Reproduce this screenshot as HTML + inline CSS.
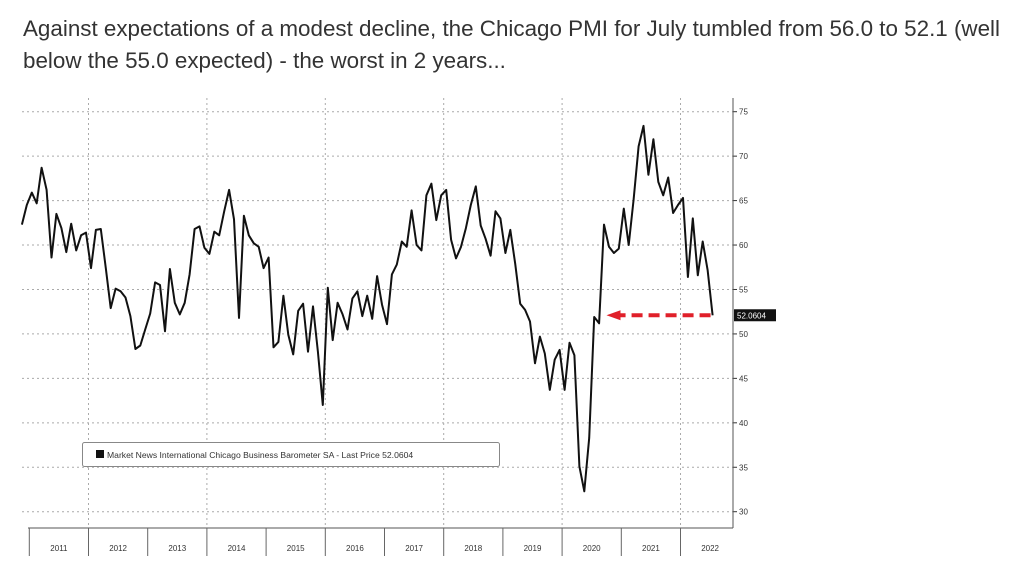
<!DOCTYPE html>
<html><head><meta charset="utf-8">
<style>
html,body{margin:0;padding:0;background:#fff;width:1030px;height:573px;overflow:hidden}
#title{position:absolute;left:23px;top:13px;width:1005px;font-family:"Liberation Sans",Arial,sans-serif;font-size:22.4px;line-height:32px;color:#333;white-space:normal}
svg{position:absolute;left:0;top:0}
</style></head><body>
<div id="title">Against expectations of a modest decline, the Chicago PMI for July tumbled from 56.0 to 52.1 (well below the 55.0 expected) - the worst in 2 years...</div>
<svg id="chart" width="1030" height="573"></svg>
<script>
const startYear = 2010.875;
const pmiValues = [62.3,64.5,65.9,64.7,68.7,66.2,58.6,63.5,61.9,59.2,
62.4,59.4,61.1,61.4,57.4,61.7,61.8,57.4,52.9,55.1,
54.8,54.1,52.0,48.3,48.7,50.5,52.3,55.8,55.5,50.3,
57.3,53.5,52.2,53.5,56.7,61.8,62.1,59.7,59.0,61.5,
61.1,63.8,66.2,62.9,51.8,63.3,61.1,60.2,59.8,57.4,
58.6,48.5,49.1,54.3,49.9,47.7,52.6,53.4,48.0,53.1,
48.0,42.0,55.2,49.3,53.5,52.2,50.5,54.0,54.8,52.0,
54.3,51.7,56.5,53.3,51.1,56.7,57.8,
60.4,59.8,63.9,60.0,59.4,65.6,66.9,62.8,65.6,66.2,60.6,58.5,
59.8,61.9,64.5,66.6,62.2,60.7,58.8,63.8,63.0,59.1,
61.7,57.9,53.4,52.7,51.4,46.7,49.7,47.8,43.7,47.1,
48.2,43.7,49.0,47.6,35.1,32.3,38.3,51.9,51.2,62.3,
59.8,59.1,59.6,64.1,60.0,65.1,71.1,73.4,67.9,71.9,
67.1,65.6,67.6,63.6,64.5,65.3,56.4,63.0,56.6,60.4,
57.2,52.1];
const yTicks = [30,35,40,45,50,55,60,65,70,75];
const years = [2011,2012,2013,2014,2015,2016,2017,2018,2019,2020,2021,2022];
const gridYears = [2012,2014,2016,2018,2020,2022];
const lastPrice = "52.0604";
const legendText = "Market News International Chicago Business Barometer SA - Last Price 52.0604";

const NS="http://www.w3.org/2000/svg";
const svg=document.getElementById('chart');
function X(t){return 88.5+(t-2012)*59.2;}
function Y(v){return 111.7+(75-v)*8.889;}
function mk(tag,attrs,parent){const e=document.createElementNS(NS,tag);for(const k in attrs)e.setAttribute(k,attrs[k]);(parent||svg).appendChild(e);return e;}
const L=22,R=733,B=528,T=98;
yTicks.forEach(v=>{
  const g=mk('line',{x1:L,x2:R,y1:Y(v),y2:Y(v),stroke:'#aaa','stroke-width':1,'stroke-dasharray':'2,3'});
  
  
  const tk=mk('line',{x1:R,x2:R+4,y1:Y(v),y2:Y(v),stroke:'#333','stroke-width':1});
  
  
  const tx=mk('text',{x:R+6,y:Y(v)+3,'font-size':8,'font-family':'Liberation Sans, sans-serif',fill:'#333'});
  tx.textContent=v;
  
  
});
gridYears.forEach(yr=>{
  const g=mk('line',{x1:X(yr),x2:X(yr),y1:T,y2:B,stroke:'#aaa','stroke-width':1,'stroke-dasharray':'2,3'});
  
  
});
const ax=mk('line',{x1:R,x2:R,y1:T,y2:B,stroke:'#555','stroke-width':1});


const bx=mk('line',{x1:L+6,x2:R,y1:B,y2:B,stroke:'#555','stroke-width':1});


years.forEach(yr=>{
  const s=mk('line',{x1:X(yr),x2:X(yr),y1:B,y2:556,stroke:'#666','stroke-width':1});
  
  
  const t=mk('text',{x:X(yr+0.5),y:551,'font-size':8,'text-anchor':'middle','font-family':'Liberation Sans, sans-serif',fill:'#333'});
  t.textContent=yr;
  
  
});
const pts=pmiValues.map((v,i)=>X(startYear+i/12).toFixed(1)+','+Y(v).toFixed(1)).join(' ');
const line=mk('polyline',{points:pts,fill:'none',stroke:'#111','stroke-width':2,'stroke-linejoin':'round'});


const lastV=pmiValues[pmiValues.length-1];
const lastX=X(startYear+(pmiValues.length-1)/12);
const arrow=mk('line',{x1:lastX-2,x2:X(2020.75)+14,y1:Y(lastV),y2:Y(lastV),stroke:'#e0202a','stroke-width':4,'stroke-dasharray':'11,6'});


const head=mk('polygon',{points:`${X(2020.75)},${Y(lastV)} ${X(2020.75)+14},${Y(lastV)-5} ${X(2020.75)+14},${Y(lastV)+5}`,fill:'#e0202a'});


const lb=mk('rect',{x:R+1,y:Y(lastV)-6,width:42,height:12,fill:'#111'});


const lt=mk('text',{x:R+4,y:Y(lastV)+3,'font-size':8,'font-family':'Liberation Sans, sans-serif',fill:'#fff'});
lt.textContent=lastPrice;


const lg=mk('rect',{x:82.5,y:442.5,width:417,height:24,fill:'#fff',stroke:'#888','stroke-width':1,rx:2});


const sw=mk('rect',{x:96,y:450,width:8,height:8,fill:'#111'});


const lgt=mk('text',{x:107,y:458,'font-size':8.6,'font-family':'Liberation Sans, sans-serif',fill:'#333'});
lgt.textContent=legendText;


</script>
</body></html>
